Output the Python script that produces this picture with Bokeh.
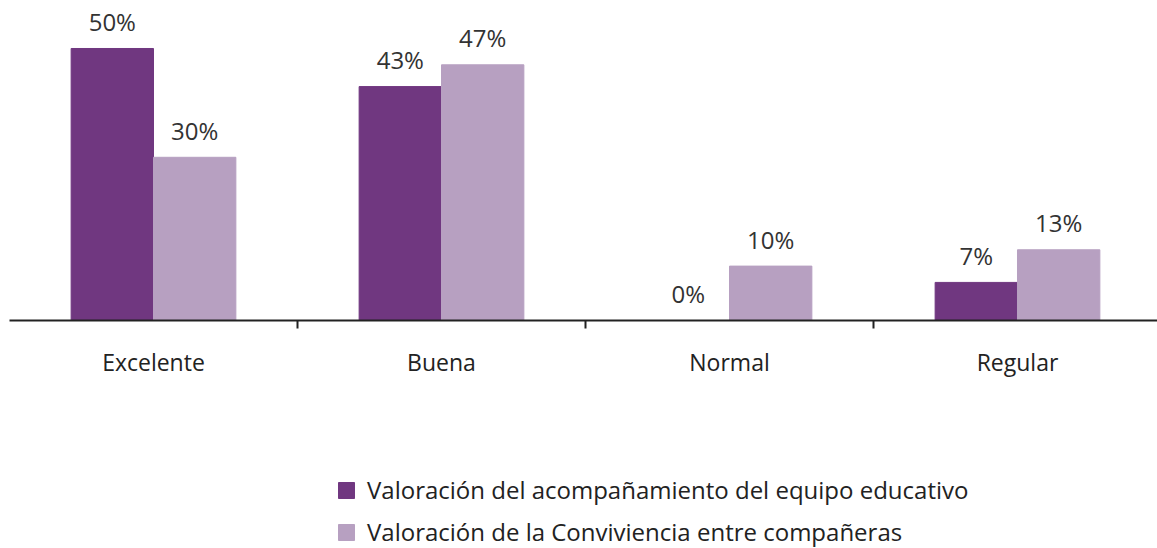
import numpy as np
from bokeh.plotting import figure
from bokeh.layouts import column
from bokeh.models import (ColumnDataSource, Range1d, FixedTicker, Legend, LegendItem)
from bokeh.core.properties import value
from bokeh.embed import file_html
from bokeh.resources import INLINE

categories = ["Excelente", "Buena", "Normal", "Regular"]
series_names = ["Valoración del acompañamiento del equipo educativo",
                "Valoración de la Conviviencia entre compañeras"]
acompanamiento = [50, 43, 0, 7]
convivencia = [30, 47, 10, 13]
colors = ["#703780", "#b7a0c1"]

W = 1157
LEFT = 9
H1, H2 = 445, 103
BAR_W = 0.286

centers = np.arange(len(categories)) + 0.5
src1 = ColumnDataSource(dict(x=centers - BAR_W / 2, top=acompanamiento,
                             lab=[f"{v}%" for v in acompanamiento]))
src2 = ColumnDataSource(dict(x=centers + BAR_W / 2, top=convivencia,
                             lab=[f"{v}%" for v in convivencia]))

p = figure(width=W, height=H1, output_backend="svg", toolbar_location=None,
           x_range=Range1d(0, (W - LEFT) / 288.0), y_range=Range1d(0, 57.35),
           min_border_left=LEFT, min_border_right=0, min_border_top=8,
           min_border_bottom=125)
p.outline_line_color = None
p.grid.visible = False
p.yaxis.visible = False

p.vbar(x="x", top="top", width=BAR_W, bottom=0, source=src1, color=colors[0])
p.vbar(x="x", top="top", width=BAR_W, bottom=0, source=src2, color=colors[1])

for s in (src1, src2):
    p.text(x="x", y="top", text="lab", source=s, text_align="center",
           text_baseline="alphabetic", y_offset=-27,
           text_font=value("Open Sans"), text_font_size="24px", text_color="#333333")

ax = p.xaxis[0]
ax.ticker = FixedTicker(ticks=list(centers), minor_ticks=list(range(1, len(categories))))
ax.major_label_overrides = {float(c): cat for c, cat in zip(centers, categories)}
ax.major_tick_out = 0
ax.major_tick_in = 0
ax.minor_tick_out = 8
ax.minor_tick_in = 0
ax.minor_tick_line_color = "#222222"
ax.minor_tick_line_width = 2
ax.axis_line_color = "#222222"
ax.axis_line_width = 2
ax.major_label_standoff = 17
ax.major_label_text_font = "Open Sans"
ax.major_label_text_font_size = "23px"
ax.major_label_text_color = "#222222"

# legend figure
q = figure(width=W, height=H2, output_backend="svg", toolbar_location=None,
           x_range=Range1d(0, 1), y_range=Range1d(0, 1),
           min_border_left=0, min_border_right=0, min_border_top=0, min_border_bottom=0)
q.outline_line_color = None
q.grid.visible = False
q.axis.visible = False
e1 = q.vbar(x=[5], top=[5], bottom=[4], width=0.1, color=colors[0])
e2 = q.vbar(x=[5], top=[5], bottom=[4], width=0.1, color=colors[1])

legend = Legend(items=[LegendItem(label=series_names[0], renderers=[e1]),
                       LegendItem(label=series_names[1], renderers=[e2])],
                location=(327, 0), orientation="vertical")
legend.label_text_font = "Open Sans"
legend.label_text_font_size = "24px"
legend.label_text_color = "#222222"
legend.glyph_width = 20
legend.glyph_height = 20
legend.label_height = 20
legend.spacing = 9
legend.padding = 0
legend.margin = 0
legend.label_standoff = 11
legend.border_line_color = None
legend.background_fill_alpha = 0
q.add_layout(legend, "center")

open("out.html", "w").write(file_html(column(p, q, spacing=0), INLINE))
